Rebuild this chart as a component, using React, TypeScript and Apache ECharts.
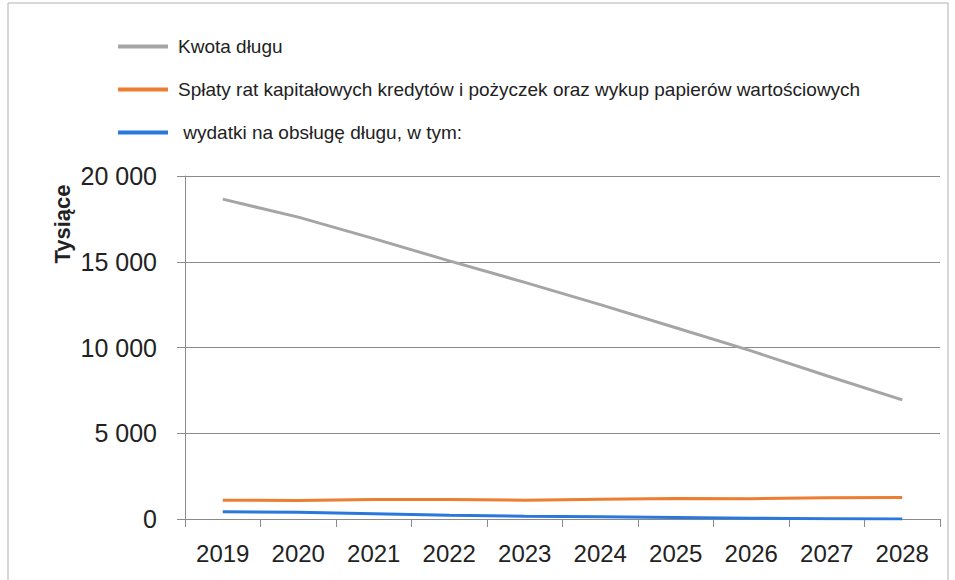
import React, { useEffect, useRef } from "react";
import * as echarts from "echarts";

const years = ["2019", "2020", "2021", "2022", "2023", "2024", "2025", "2026", "2027", "2028"];
const kwotaDlugu = [18650, 17600, 16350, 15050, 13800, 12500, 11150, 9800, 8350, 6950];
const splaty = [1100, 1080, 1140, 1130, 1100, 1150, 1200, 1180, 1240, 1260];
const wydatki = [420, 390, 310, 220, 160, 130, 90, 40, 20, 5];
const seriesNames = [
  "Kwota długu",
  "Spłaty rat kapitałowych kredytów i pożyczek oraz wykup papierów wartościowych",
  " wydatki na obsługę długu, w tym:",
];
const yTicks = [0, 5000, 10000, 15000, 20000];
const axisTitle = "Tysiące";

const FONT = '"Liberation Sans", Arial, sans-serif';

export default function App() {
  const ref = useRef<HTMLDivElement>(null);
  useEffect(() => {
    if (!ref.current) return;
    const chart = echarts.init(ref.current, undefined, { renderer: "svg" });
    const fmt = (v: number) => {
      const s = String(Math.round(v));
      return s.replace(/\B(?=(\d{3})+(?!\d))/g, " ");
    };
    chart.setOption({
      animation: false,
      backgroundColor: "#ffffff",
      color: ["#a5a5a5", "#ed7d31", "#2a78dc"],
      legend: {
        orient: "vertical",
        left: 118,
        top: 37,
        padding: 0,
        itemGap: 24,
        itemWidth: 50,
        itemHeight: 4,
        icon: "rect",
        textStyle: { fontFamily: FONT, fontSize: 19, color: "#222", padding: [0, 0, 0, 5] },
        data: seriesNames,
      },
      grid: { left: 185, right: 15, top: 176, bottom: 61 },
      xAxis: {
        type: "category",
        data: years,
        boundaryGap: true,
        axisLine: { lineStyle: { color: "#8a8a8a", width: 1 } },
        axisTick: { show: true, length: 8, lineStyle: { color: "#8a8a8a" } },
        axisLabel: { fontFamily: FONT, fontSize: 24, color: "#222", margin: 22, interval: 0 },
      },
      yAxis: {
        type: "value",
        min: yTicks[0],
        max: yTicks[yTicks.length - 1],
        interval: 5000,
        axisLine: { show: true, lineStyle: { color: "#8a8a8a", width: 1 } },
        axisTick: { show: true, length: 8, lineStyle: { color: "#8a8a8a" } },
        splitLine: { show: true, lineStyle: { color: "#8a8a8a", width: 1 } },
        axisLabel: { fontFamily: FONT, fontSize: 25, color: "#222", margin: 28, formatter: fmt },
      },
      graphic: [
        {
          type: "text",
          x: 62,
          y: 224,
          rotation: Math.PI / 2,
          style: {
            text: axisTitle,
            font: `bold 22px ${FONT}`,
            fill: "#222",
            textAlign: "center",
            textVerticalAlign: "middle",
          },
        },
        {
          type: "rect",
          shape: { x: 8, y: 3, width: 940, height: 590 },
          style: { fill: "none", stroke: "#b0b0b0", lineWidth: 1 },
          silent: true,
        },
      ],
      series: [
        { name: seriesNames[0], type: "line", data: kwotaDlugu, symbol: "none", lineStyle: { width: 3 } },
        { name: seriesNames[1], type: "line", data: splaty, symbol: "none", lineStyle: { width: 3 } },
        { name: seriesNames[2], type: "line", data: wydatki, symbol: "none", lineStyle: { width: 3 } },
      ],
    });
    return () => chart.dispose();
  }, []);
  return (
    <div
      ref={ref}
      style={{ position: "fixed", left: 0, top: 0, width: 955, height: 580 }}
    />
  );
}
